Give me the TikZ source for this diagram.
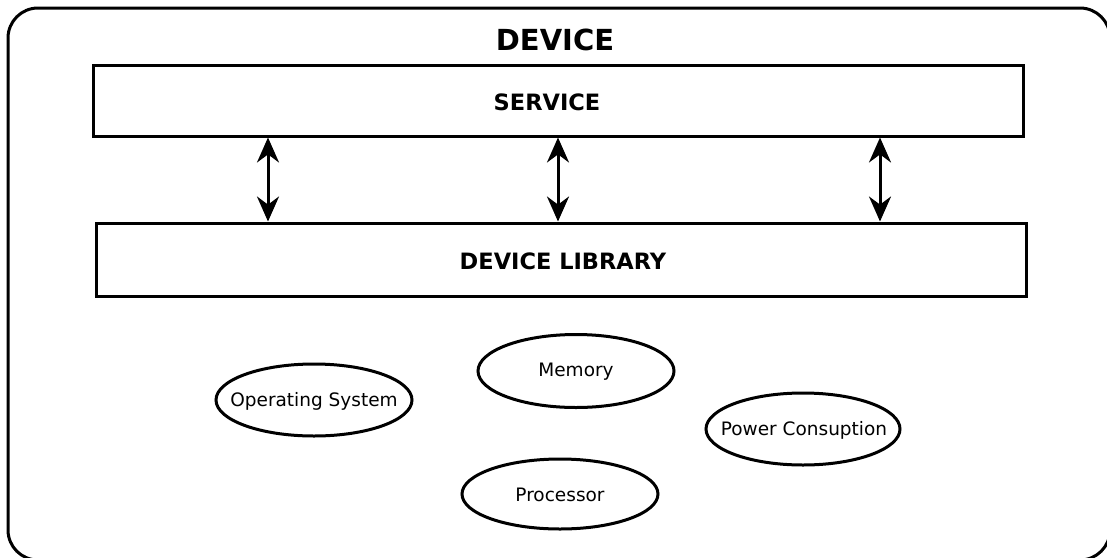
\documentclass[tikz,border=0pt]{standalone}
\usepackage{fontspec}
\setmainfont{DejaVu Sans}
\usetikzlibrary{positioning,shapes,arrows.meta}

\begin{document}
\begin{tikzpicture}[x=1pt,y=-1pt]
		\tikzstyle{layer_style} = [draw=black,line width=3pt,minimum width=930pt,inner sep=0pt]
		\tikzstyle{caption_style} = [inner sep=0pt,font=\fontsize{22.5}{27}\selectfont\bfseries]
		\tikzstyle{part_style} = [inner sep=0pt,font=\fontsize{18.5}{22}\selectfont]
		\tikzstyle{ring_style} = [draw=black,line width=3pt]
		\tikzstyle{link_style} = [draw=black,line width=3pt,{Stealth[length=25pt,width=22pt]}-{Stealth[length=25pt,width=22pt]}]
		\useasboundingbox (0,0) rectangle (1107,557);
		\draw[line width=3pt,rounded corners=30pt] (8,8) rectangle (1110,560);
		\node[font=\fontsize{29}{34}\selectfont\bfseries] (device) at (555,40) {DEVICE};
		\node[layer_style,minimum height=71pt] (service) at (558,100.5) {};
		\node[layer_style,minimum height=73pt] (library) at (561,259.5) {};
		\node[caption_style,xshift=-11pt,yshift=-2pt] (service_text) at (service) {SERVICE};
		\node[caption_style,xshift=2pt,yshift=-1.5pt] (library_text) at (library) {DEVICE LIBRARY};
		\node[part_style] (os) at (314,401) {Operating System};
		\node[part_style] (memory) at (576,372) {Memory};
		\node[part_style] (power) at (804,430) {Power Consuption};
		\node[part_style] (cpu) at (560,495) {Processor};
		\draw[ring_style] (314,400) ellipse (98 and 36);
		\draw[ring_style] (576,371) ellipse (98 and 36.5);
		\draw[ring_style] (803,429) ellipse (97 and 36);
		\draw[ring_style] (560,494) ellipse (98 and 35);
		\draw[link_style] (268,0 |- service.south) -- (268,0 |- library.north);
		\draw[link_style] (558,0 |- service.south) -- (558,0 |- library.north);
		\draw[link_style] (880,0 |- service.south) -- (880,0 |- library.north);
\end{tikzpicture}
\end{document}
